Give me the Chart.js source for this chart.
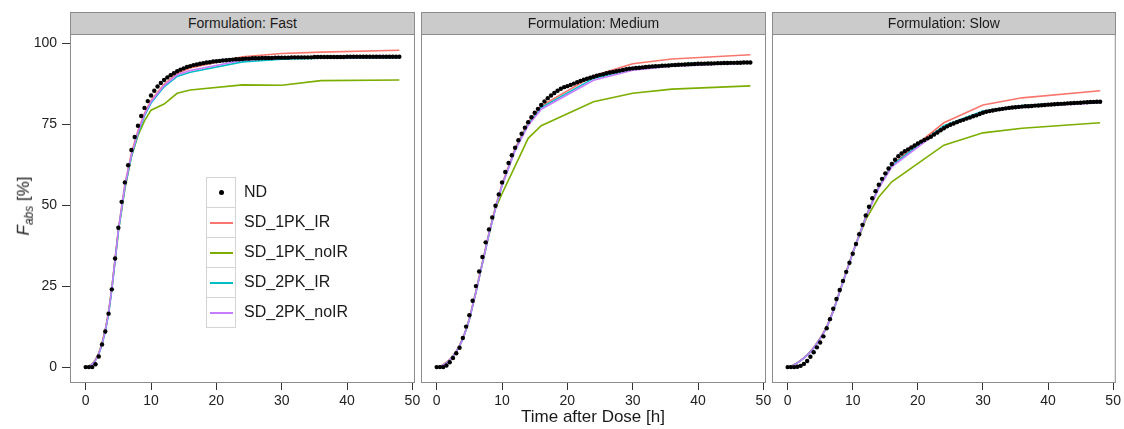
<!DOCTYPE html>
<html>
<head>
<meta charset="utf-8">
<script src="https://cdn.jsdelivr.net/npm/chart.js@4.4.1/dist/chart.umd.min.js"></script>
<style>
  body { margin: 0; background: #fff; width: 1124px; height: 429px; position: relative; overflow: hidden;
         font-family: "Liberation Sans", Arial, sans-serif; color: #1a1a1a; }
  canvas { position: absolute; top: 0; }
  .strip { position: absolute; top: 12px; height: 23px; box-sizing: border-box; background: #cbcbcb;
           border: 1px solid #8c8c8c; text-align: center; font-size: 14px; line-height: 21px; }
  #legend { position: absolute; left: 206px; top: 177px; }
  .row { position: relative; height: 30px; }
  .key { position: absolute; left: 0; top: 0; width: 30px; height: 31px; box-sizing: border-box;
         background: #fff; border: 1px solid #d4d4d4; }
  .key span { position: absolute; }
  .lab { position: absolute; left: 38px; top: 0; line-height: 30px; font-size: 16px; white-space: nowrap; }
  #xtitle { position: absolute; left: 0; width: 1186px; top: 407px; text-align: center; font-size: 17px; line-height: 20px; }
  #ytitle { position: absolute; left: 25px; top: 206px; transform: translate(-50%, -50%) rotate(-90deg);
            font-size: 17px; white-space: nowrap; }
</style>
</head>
<body>
<canvas id="c0" width="425" height="429" style="left:0px"></canvas>
<canvas id="c1" width="365" height="429" style="left:411px"></canvas>
<canvas id="c2" width="362" height="429" style="left:762px"></canvas>
<div id="legend"></div>
<div id="xtitle">Time after Dose [h]</div>
<div id="ytitle"><i>F</i><sub style="font-size:12px"><i>abs</i></sub> [%]</div>

<script>
// facet titles
const panelTitles = ['Formulation: Fast', 'Formulation: Medium', 'Formulation: Slow'];
const seriesNames = ['ND', 'SD_1PK_IR', 'SD_1PK_noIR', 'SD_2PK_IR', 'SD_2PK_noIR'];
const seriesColors = ['#000000', '#F8766D', '#7CAE00', '#00BFC4', '#C77CFF'];
const xTicks = [0, 10, 20, 30, 40, 50];
const yTicks = [0, 25, 50, 75, 100];

// ND sampled every half hour
const ndTimes = [0, 0.5, 1, 1.5, 2, 2.5, 3, 3.5, 4, 4.5, 5, 5.5, 6, 6.5, 7, 7.5, 8, 8.5, 9, 9.5,
  10, 10.5, 11, 11.5, 12, 12.5, 13, 13.5, 14, 14.5, 15, 15.5, 16, 16.5, 17, 17.5, 18, 18.5, 19, 19.5,
  20, 20.5, 21, 21.5, 22, 22.5, 23, 23.5, 24, 24.5, 25, 25.5, 26, 26.5, 27, 27.5, 28, 28.5, 29, 29.5,
  30, 30.5, 31, 31.5, 32, 32.5, 33, 33.5, 34, 34.5, 35, 35.5, 36, 36.5, 37, 37.5, 38, 38.5, 39, 39.5,
  40, 40.5, 41, 41.5, 42, 42.5, 43, 43.5, 44, 44.5, 45, 45.5, 46, 46.5, 47, 47.5, 48];

// SD simulation output times
const sdTimes = [0, 0.5, 1, 1.5, 2, 2.5, 3, 3.5, 4, 4.5, 5, 6, 7, 8, 9, 10, 12, 14, 16, 24, 30, 36, 48];

const ndFast = [0, 0, 0, 0.9, 3.3, 7, 11, 16.5, 24, 33.5,
  43, 51, 57, 62.3, 67, 71, 74.5, 77.5, 80, 82.1,
  83.8, 85.3, 86.6, 87.7, 88.6, 89.4, 90.1, 90.7, 91.3, 91.8,
  92.2, 92.6, 92.9, 93.2, 93.4, 93.6, 93.8, 94.0, 94.1, 94.3,
  94.4, 94.5, 94.6, 94.7, 94.8, 94.9, 95.0, 95.0, 95.1, 95.2,
  95.2, 95.3, 95.3, 95.3, 95.4, 95.4, 95.4, 95.4, 95.5, 95.5,
  95.5, 95.5, 95.5, 95.6, 95.6, 95.6, 95.6, 95.6, 95.6, 95.6,
  95.7, 95.7, 95.7, 95.7, 95.7, 95.7, 95.7, 95.7, 95.7, 95.7,
  95.8, 95.8, 95.8, 95.8, 95.8, 95.8, 95.8, 95.8, 95.8, 95.8,
  95.8, 95.8, 95.8, 95.8, 95.8, 95.8, 95.8];
const ndMedium = [0, 0, 0, 0.5, 1.5, 2.8, 4.3, 6, 9, 12.5,
  16, 20.5, 25, 29.5, 34, 38.5, 42.5, 46.2, 49.8, 53.3,
  57, 60.2, 63, 65.4, 67.7, 70, 72, 73.9, 75.6, 77.1,
  78.5, 79.7, 80.9, 82, 83, 83.8, 84.6, 85.3, 85.9, 86.4,
  86.7, 87.1, 87.5, 87.9, 88.3, 88.7, 89.0, 89.3, 89.6, 89.9,
  90.2, 90.4, 90.7, 90.9, 91.1, 91.3, 91.5, 91.7, 91.9, 92.1,
  92.2, 92.3, 92.4, 92.5, 92.6, 92.7, 92.8, 92.85, 92.9, 93.0,
  93.05, 93.1, 93.2, 93.25, 93.3, 93.35, 93.4, 93.45, 93.5, 93.55,
  93.6, 93.6, 93.65, 93.7, 93.7, 93.75, 93.8, 93.8, 93.85, 93.85,
  93.9, 93.9, 93.95, 93.95, 94.0, 94.0, 94.0];
const ndSlow = [0, 0, 0, 0.1, 0.4, 1, 1.9, 3.2, 4.6, 6.1,
  7.6, 9.5, 12, 14.8, 18, 21, 23.8, 26.6, 29.4, 32.2,
  35, 38, 41, 43.9, 46.8, 49.5, 52.1, 54.3, 56.3, 58.1,
  59.8, 61.3, 62.7, 64, 65.1, 65.9, 66.6, 67.2, 67.8, 68.4,
  69, 69.6, 70.1, 70.6, 71.1, 71.8, 72.4, 73.1, 73.7, 74.3,
  74.8, 75.2, 75.6, 76.0, 76.3, 76.7, 77.0, 77.4, 77.7, 78.1,
  78.5, 78.8, 79.0, 79.2, 79.4, 79.55, 79.7, 79.85, 80.0, 80.1,
  80.2, 80.3, 80.4, 80.5, 80.5, 80.6, 80.7, 80.75, 80.8, 80.9,
  81.0, 81.05, 81.1, 81.2, 81.25, 81.3, 81.4, 81.45, 81.5, 81.55,
  81.6, 81.7, 81.75, 81.8, 81.85, 81.9, 81.9];

const fast1PK_IR   = [0, 0.3, 1.0, 2.3, 4.3, 7.4, 11.6, 17, 24.5, 33.5, 42.5, 56.5, 66, 73, 78.3, 82.3, 87.3, 90.6, 92.3, 95.8, 96.8, 97.2, 97.8];
const fast1PK_noIR = [0, 0.3, 1.0, 2.3, 4.2, 7.3, 11.5, 16.8, 24.2, 33, 41.8, 55, 65, 71.5, 76, 79.3, 81.2, 84.5, 85.5, 87.1, 87.0, 88.4, 88.6];
const fast2PK_IR   = [0, 0.2, 0.8, 2.0, 3.9, 6.9, 11, 16.3, 23.8, 32.8, 41.8, 55.5, 65, 72, 77.5, 81.5, 86.5, 89.7, 91.0, 94.2, 95.0, 95.3, 95.5];
const fast2PK_noIR = [0, 0.2, 0.9, 2.1, 4.1, 7.1, 11.3, 16.7, 24.2, 33.2, 42.2, 56, 65.5, 72.5, 77.9, 81.9, 86.9, 90.2, 91.5, 94.7, 95.3, 95.5, 95.6];

const med1PK_IR   = [0, 0.3, 0.8, 1.5, 2.4, 3.6, 5, 6.8, 9, 11.8, 15, 23.5, 32.5, 41.5, 49.5, 56.5, 67.5, 75.5, 80.6, 89.9, 93.6, 95.1, 96.4];
const med1PK_noIR = [0, 0.2, 0.6, 1.3, 2.2, 3.4, 4.8, 6.5, 8.7, 11.5, 14.7, 23, 32, 40.8, 49, 53.5, 62, 70.6, 74.5, 81.9, 84.5, 85.8, 86.8];
const med2PK_IR   = [0, 0.2, 0.6, 1.3, 2.2, 3.4, 4.8, 6.5, 8.7, 11.5, 14.7, 23, 32, 41, 49, 56, 67, 75, 80.1, 89.1, 92, 93.2, 94.1];
const med2PK_noIR = [0, 0.2, 0.6, 1.3, 2.2, 3.4, 4.8, 6.5, 8.7, 11.5, 14.7, 23, 32, 41, 49, 56, 66.8, 74.6, 79.6, 88.5, 91.6, 92.9, 93.9];

const slow1PK_IR   = [0, 0.3, 0.8, 1.4, 2.1, 2.9, 3.8, 4.9, 6.1, 7.5, 9, 12.5, 17.5, 23.5, 29.5, 35.5, 46.5, 55.8, 62.5, 75.4, 80.9, 83.1, 85.3];
const slow1PK_noIR = [0, 0.2, 0.7, 1.3, 2, 2.8, 3.7, 4.7, 5.9, 7.3, 8.8, 12.2, 17.2, 23.2, 29.2, 35.2, 45.5, 52.5, 57.2, 68.5, 72.3, 73.7, 75.4];
const slow2PK_IR   = [0, 0.2, 0.7, 1.3, 2, 2.8, 3.7, 4.7, 5.9, 7.3, 8.8, 12.2, 17.2, 23.2, 29.2, 35.2, 46.2, 55.5, 62.2, 74.5, 79, 80.7, 82.0];
const slow2PK_noIR = [0, 0.2, 0.7, 1.3, 2, 2.8, 3.7, 4.7, 5.9, 7.3, 8.8, 12.2, 17.2, 23.2, 29.2, 35.2, 46, 55.2, 61.8, 74.0, 78.7, 80.3, 81.6];

const panelND = [ndFast, ndMedium, ndSlow];
const panelSD = [
  [fast1PK_IR, fast1PK_noIR, fast2PK_IR, fast2PK_noIR],
  [med1PK_IR, med1PK_noIR, med2PK_IR, med2PK_noIR],
  [slow1PK_IR, slow1PK_noIR, slow2PK_IR, slow2PK_noIR]
];

function toXY(xs, ys) {
  return ys.map((v, i) => ({ x: xs[i], y: v }));
}

// panel box on top of the data, like ggplot's panel.border
const panelBox = {
  id: 'panelBox',
  afterDraw(chart) {
    const a = chart.chartArea, ctx = chart.ctx;
    ctx.save();
    ctx.strokeStyle = '#8c8c8c';
    ctx.lineWidth = 1;
    ctx.strokeRect(a.left + 0.5, a.top + 0.5, a.right - a.left - 1, a.bottom - a.top - 1);
    ctx.restore();
  }
};

const pads = [{ left: 0, right: 10 }, { left: 10, right: 10 }, { left: 10, right: 7 }];

for (let p = 0; p < 3; p++) {
  const datasets = [{
    label: seriesNames[0],
    data: toXY(ndTimes, panelND[p]),
    showLine: false,
    pointRadius: 2.2,
    pointBorderWidth: 0,
    pointBackgroundColor: '#000',
    order: 0
  }];
  // purple drawn last among lines
  const lineOrder = [4, 3, 2, 1];
  for (let s = 0; s < 4; s++) {
    datasets.push({
      label: seriesNames[s + 1],
      data: toXY(sdTimes, panelSD[p][s]),
      borderColor: seriesColors[s + 1],
      borderWidth: 1.6,
      pointRadius: 0,
      tension: 0,
      order: lineOrder[s]
    });
  }

  const chart = new Chart(document.getElementById('c' + p), {
    type: 'line',
    data: { datasets: datasets },
    options: {
      responsive: false,
      animation: false,
      devicePixelRatio: 1,
      events: [],
      layout: { padding: { top: 34, bottom: 0, left: pads[p].left, right: pads[p].right } },
      plugins: { legend: { display: false }, tooltip: { enabled: false } },
      scales: {
        x: {
          type: 'linear',
          min: -2.4,
          max: 50.4,
          afterBuildTicks: s => { s.ticks = xTicks.map(v => ({ value: v })); },
          afterFit: s => { s.height = 46; },
          grid: { drawOnChartArea: false, drawTicks: true, tickLength: 7, tickColor: '#333', lineWidth: 1 },
          border: { display: false },
          ticks: { color: '#222', padding: 3, maxRotation: 0, font: { family: 'Liberation Sans', size: 14 } }
        },
        y: {
          type: 'linear',
          display: p === 0,
          min: -4.9,
          max: 102.8,
          afterBuildTicks: s => { s.ticks = yTicks.map(v => ({ value: v })); },
          afterFit: s => { s.width = (p === 0) ? 70 : 0; },
          grid: { drawOnChartArea: false, drawTicks: true, tickLength: 8, tickColor: '#333', lineWidth: 1 },
          border: { display: false },
          ticks: { color: '#222', padding: 5, font: { family: 'Liberation Sans', size: 14 } }
        }
      }
    },
    plugins: [panelBox]
  });

  // facet strip above the panel
  const a = chart.chartArea;
  const left = parseFloat(chart.canvas.style.left);
  const strip = document.createElement('div');
  strip.className = 'strip';
  strip.style.left = (left + a.left) + 'px';
  strip.style.width = (a.right - a.left) + 'px';
  strip.textContent = panelTitles[p];
  document.body.appendChild(strip);
}

// legend built from the series names and colours
const legend = document.getElementById('legend');
seriesNames.forEach((name, i) => {
  const row = document.createElement('div');
  row.className = 'row';
  const key = document.createElement('div');
  key.className = 'key';
  const mark = document.createElement('span');
  if (i === 0) {
    mark.style.cssText = 'left:12px;top:12px;width:5px;height:5px;border-radius:50%;background:#000';
  } else {
    mark.style.cssText = 'left:3px;top:14px;width:23px;height:2px;background:' + seriesColors[i];
  }
  key.appendChild(mark);
  const lab = document.createElement('div');
  lab.className = 'lab';
  lab.textContent = name;
  row.appendChild(key);
  row.appendChild(lab);
  legend.appendChild(row);
});
</script>
</body>
</html>
